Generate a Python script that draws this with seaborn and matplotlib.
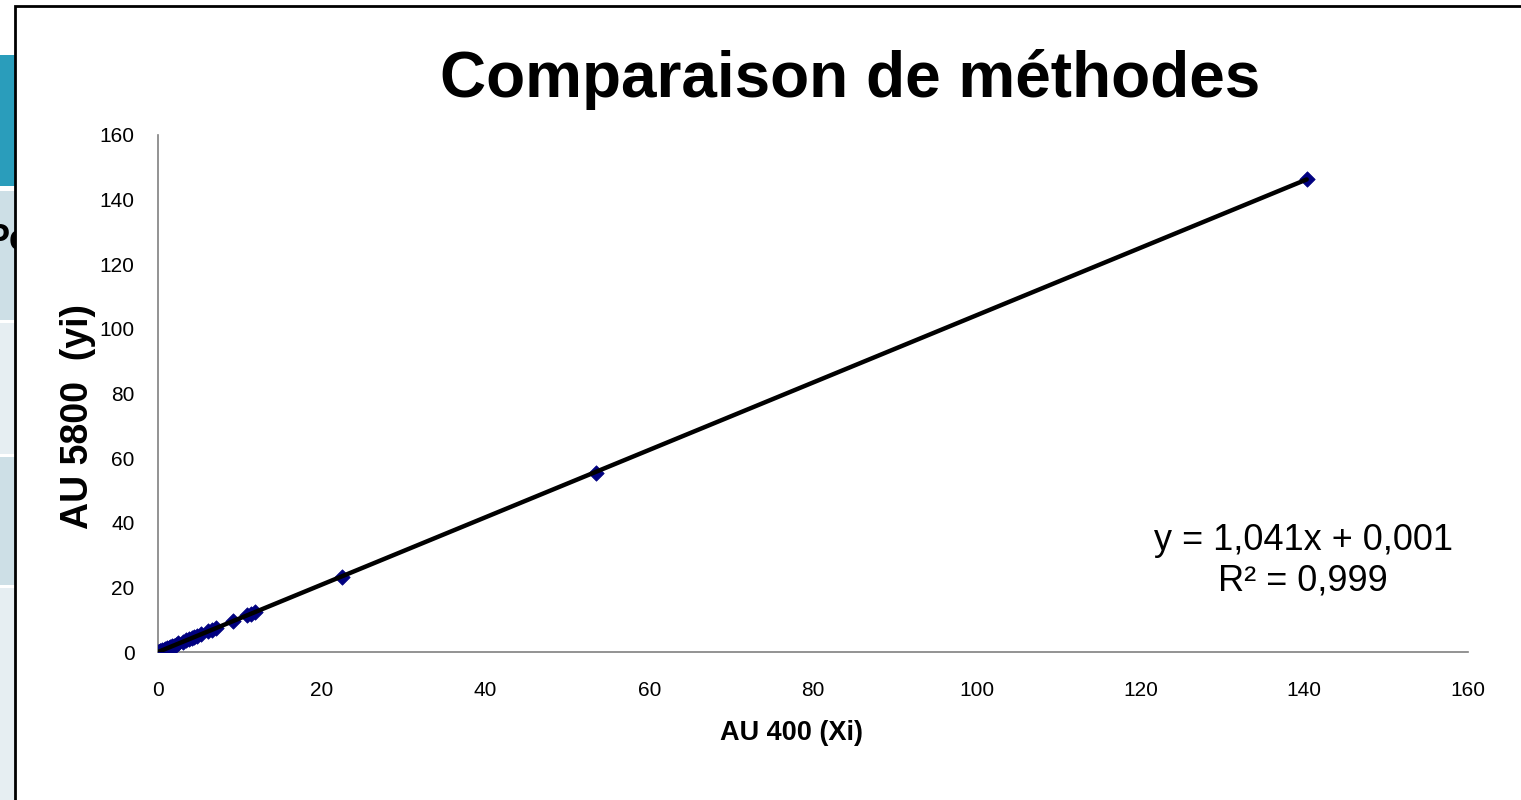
import matplotlib
matplotlib.use("Agg")
import numpy as np
import pandas as pd
import matplotlib.pyplot as plt
import seaborn as sns
from matplotlib.patches import Rectangle

# Measured values: AU 400 (Xi) vs AU 5800 (yi)
au400 = [0.0, 0.1, 0.2, 0.3, 0.5, 0.7, 0.9, 1.1, 1.3, 1.5, 1.7, 1.9, 2.2, 2.5,
         3.0, 3.4, 3.8, 4.1, 4.4, 4.8, 5.3, 6.1, 6.6, 7.1, 9.2, 10.9, 11.4, 11.9,
         22.5, 53.5, 140.3]
au5800 = [0.0, 0.1, 0.2, 0.3, 0.6, 0.7, 0.9, 1.2, 1.3, 1.6, 1.8, 2.0, 2.3, 2.7,
          3.1, 3.6, 4.0, 4.2, 4.7, 5.0, 5.5, 6.4, 6.9, 7.4, 9.7, 11.4, 11.8, 12.5,
          23.3, 55.4, 146.4]
slope, intercept, r2 = 1.041, 0.001, 0.999

df = pd.DataFrame({"x": au400, "y": au5800})

sns.set_style("white")
plt.rcParams["font.family"] = ["Liberation Sans", "DejaVu Sans"]
plt.rcParams["text.color"] = "black"
plt.rcParams["axes.labelcolor"] = "black"

W, H = 1521, 800
fig = plt.figure(figsize=(W / 100, H / 100), dpi=100)

# slide background remnants on the left
def px_rect(x0, y0, x1, y1, **kw):
    fig.patches.append(Rectangle((x0 / W, 1 - y1 / H), (x1 - x0) / W, (y1 - y0) / H,
                                 transform=fig.transFigure, **kw))

px_rect(0, 55, 20, 186, facecolor="#2A9DBB", edgecolor="none", zorder=1)
px_rect(0, 191, 20, 320, facecolor="#CDDFE6", edgecolor="none", zorder=1)
px_rect(0, 323, 20, 454, facecolor="#E6EEF2", edgecolor="none", zorder=1)
px_rect(0, 457, 20, 585, facecolor="#CDDFE6", edgecolor="none", zorder=1)
px_rect(0, 588, 20, 800, facecolor="#E6EEF2", edgecolor="none", zorder=1)
fig.text(-14 / W, 1 - 241 / H, "Pe", fontsize=26, fontweight="bold", va="center",
         ha="left", zorder=1.5)
# chart frame
px_rect(15, 6, 1540, 815, facecolor="white", edgecolor="black", linewidth=2, zorder=2)

ax = fig.add_axes([158 / W, 1 - 652 / H, 1310 / W, 517 / H])
ax.set_zorder(5)
ax.patch.set_alpha(0)

sns.regplot(data=df, x="x", y="y", ax=ax, ci=None, truncate=True,
            marker="D",
            scatter_kws=dict(s=62, color="#000080", edgecolor="#000080", linewidths=0.5,
                             alpha=1, zorder=3),
            line_kws=dict(color="black", linewidth=3.2, zorder=4))

ax.set_xlim(0, 160)
ax.set_ylim(0, 160)
ax.set_xticks(np.arange(0, 161, 20))
ax.set_yticks(np.arange(0, 161, 20))
ax.tick_params(axis="both", direction="out", length=6, width=1, color="#808080",
               labelsize=15, labelcolor="black")
ax.tick_params(axis="x", pad=15)
ax.tick_params(axis="y", pad=11)
for s in ["top", "right"]:
    ax.spines[s].set_visible(False)
for s in ["left", "bottom"]:
    ax.spines[s].set_color("#808080")
    ax.spines[s].set_linewidth(1.2)

ax.set_xlabel("AU 400 (Xi)", fontsize=19.5, fontweight="bold")
ax.xaxis.set_label_coords((791 - 158) / 1310, (652 - 720) / 517)
ax.set_ylabel("AU 5800  (yi)", fontsize=27, fontweight="bold")
ax.yaxis.set_label_coords((96 - 158) / 1310, 0.455)

fig.text(850 / W, 1 - 79 / H, "Comparaison de méthodes", fontsize=46,
         fontweight="bold", ha="center", va="center", zorder=6)

fig.text(1303 / W, 1 - 541 / H, f"y = {slope:.3f}x + {intercept:.3f}".replace(".", ","),
         fontsize=26, ha="center", va="center", zorder=6)
fig.text(1303 / W, 1 - 581 / H, f"R² = {r2:.3f}".replace(".", ","),
         fontsize=26, ha="center", va="center", zorder=6)

fig.savefig("out.png", dpi=100)
